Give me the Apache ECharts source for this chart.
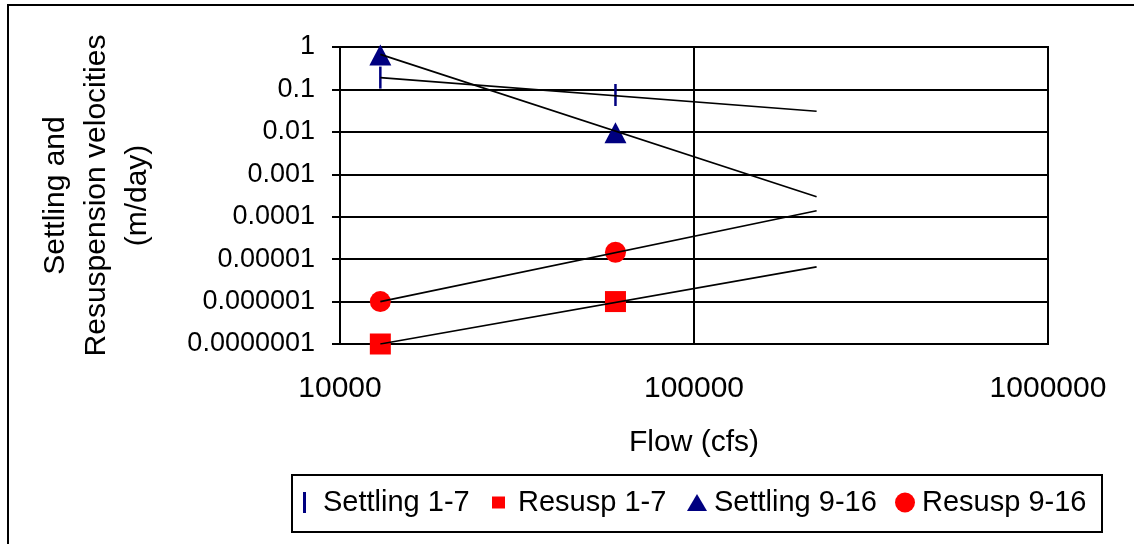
<!DOCTYPE html>
<html>
<head>
<meta charset="utf-8">
<script src="https://cdn.jsdelivr.net/npm/echarts@6/dist/echarts.min.js"></script>
<style>
html,body{margin:0;padding:0;background:#fff;}
#chart{width:1134px;height:544px;}
</style>
</head>
<body>
<div id="chart"></div>
<script>
// ---- data ----
const flow = [13000, 60000];
const settling17 = [0.19, 0.074];
const resusp17 = [1e-7, 1e-6];
const settling916 = [0.65, 0.0095];
const resusp916 = [1e-6, 1.45e-5];

const trendFlow = [13000, 222000];
const trendSettling17 = [0.19, 0.0306];
const trendResusp17 = [1e-7, 6.6e-6];
const trendSettling916 = [0.67, 2.95e-4];
const trendResusp916 = [1e-6, 1.38e-4];

const xTickLabels = ['10000', '100000', '1000000'];
const yTickLabels = ['0.0000001', '0.000001', '0.00001', '0.0001', '0.001', '0.01', '0.1', '1'];

const seriesNames = ['Settling 1-7', 'Resusp 1-7', 'Settling 9-16', 'Resusp 9-16'];

const FONT = "'Liberation Sans', Arial, sans-serif";
const pairs = (xs, ys) => xs.map((x, i) => [x, ys[i]]);

const chart = echarts.init(document.getElementById('chart'), null, {renderer: 'canvas'});

function legendFor(name, left, icon, w, h, padLeft) {
  return {
    data: [{name: name, icon: icon}],
    left: left, top: 488, padding: 0,
    itemWidth: w, itemHeight: h,
    symbolKeepAspect: false,
    selectedMode: false,
    textStyle: {fontFamily: FONT, fontSize: 29, color: '#000', padding: [0, 0, 0, padLeft]}
  };
}

const trendStyle = {color: '#000', width: 1.7};
function trend(ys) {
  return {
    type: 'line', data: pairs(trendFlow, ys), symbol: 'none', z: 5,
    lineStyle: trendStyle, silent: true, legendHoverLink: false
  };
}
function pts(name, ys, symbol, size, color, z) {
  return {
    name: name, type: 'scatter', data: pairs(flow, ys), symbol: symbol, symbolSize: size,
    itemStyle: {color: color, opacity: 1}, z: z, silent: true
  };
}

chart.setOption({
  animation: false,
  backgroundColor: '#fff',
  textStyle: {fontFamily: FONT},
  grid: {left: 340, top: 47, width: 708, height: 297, show: true, borderColor: '#000', borderWidth: 2, containLabel: false},
  xAxis: {
    type: 'log', logBase: 10, min: 10000, max: 1000000,
    axisLine: {show: true, lineStyle: {color: '#000', width: 2}},
    axisTick: {show: false},
    splitLine: {show: true, lineStyle: {color: '#000', width: 2}},
    minorTick: {show: false}, minorSplitLine: {show: false},
    axisLabel: {
      fontFamily: FONT, fontSize: 30, color: '#000', margin: 30,
      formatter: v => xTickLabels[Math.round(Math.log10(v)) - 4] || ''
    },
    name: 'Flow (cfs)', nameLocation: 'middle', nameGap: 84,
    nameTextStyle: {fontFamily: FONT, fontSize: 30, color: '#000'}
  },
  yAxis: {
    type: 'log', logBase: 10, min: 1e-7, max: 1,
    axisLine: {show: true, lineStyle: {color: '#000', width: 2}},
    axisTick: {show: true, inside: false, length: 8, lineStyle: {color: '#000', width: 2}},
    splitLine: {show: true, lineStyle: {color: '#000', width: 2}},
    axisLabel: {
      fontFamily: FONT, fontSize: 27, color: '#000', margin: 25,
      formatter: v => yTickLabels[Math.round(Math.log10(v)) + 7] || ''
    },
    name: 'Settling and\nResuspension velocities\n(m/day)', nameLocation: 'middle', nameGap: 182,
    nameTextStyle: {fontFamily: FONT, fontSize: 30, color: '#000', lineHeight: 41, align: 'center'}
  },
  legend: [
    legendFor(seriesNames[0], 303, 'rect', 3, 21, 12),
    legendFor(seriesNames[1], 492, 'rect', 13, 12, 8),
    legendFor(seriesNames[2], 687, 'triangle', 20, 17, 2),
    legendFor(seriesNames[3], 895, 'circle', 20, 20, 2)
  ],
  graphic: [
    {type: 'rect', shape: {x: 8, y: 5, width: 1200, height: 700}, style: {fill: 'none', stroke: '#000', lineWidth: 2}, silent: true},
    {type: 'rect', shape: {x: 292, y: 475, width: 810, height: 57}, style: {fill: 'none', stroke: '#000', lineWidth: 2}, silent: true, z: -1}
  ],
  series: [
    pts(seriesNames[0], settling17, 'rect', [2.5, 22], '#000080', 3),
    pts(seriesNames[1], resusp17, 'rect', [21, 21], '#ff0000', 3),
    pts(seriesNames[2], settling916, 'triangle', [22, 21], '#000080', 4),
    pts(seriesNames[3], resusp916, 'circle', 21, '#ff0000', 3),
    trend(trendSettling17),
    trend(trendResusp17),
    trend(trendSettling916),
    trend(trendResusp916)
  ]
});
</script>
</body>
</html>
